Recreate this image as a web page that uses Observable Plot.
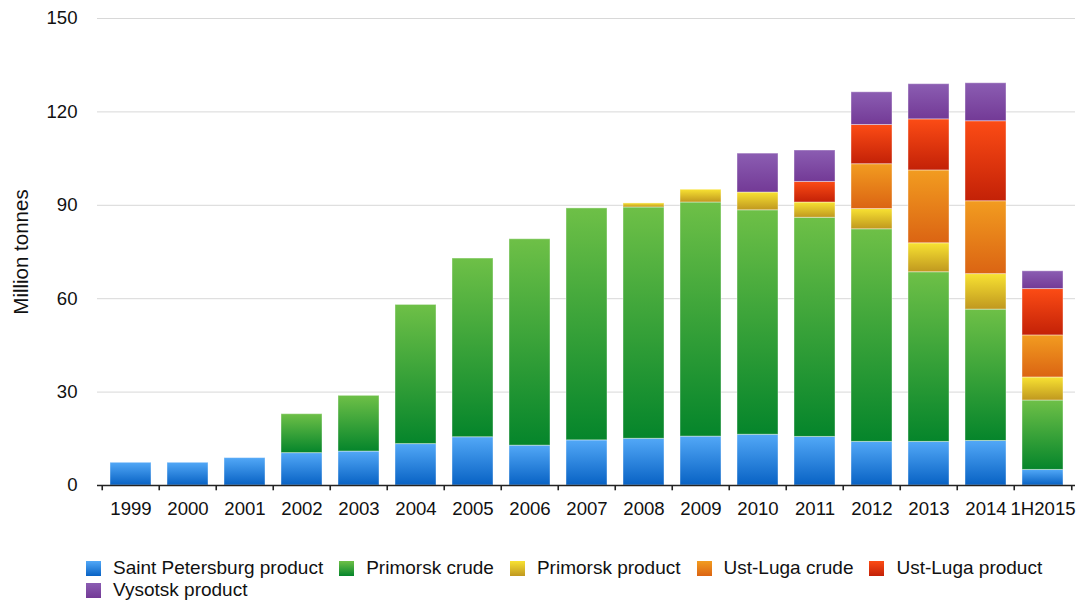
<!DOCTYPE html>
<html>
<head>
<meta charset="utf-8">
<script src="https://cdn.jsdelivr.net/npm/d3@7"></script>
<script src="https://cdn.jsdelivr.net/npm/@observablehq/plot@0.6"></script>
<style>
  body { margin: 0; background: #fff; font-family: "Liberation Sans", Arial, Helvetica, sans-serif; }
  #legend { display: flex; flex-wrap: wrap; column-gap: 16px; margin: 17px 0 0 86px; width: 970px;
            font-size: 19px; line-height: 22px; color: #111; }
  .item { display: flex; align-items: center; }
  .sw { width: 15px; height: 15px; margin-right: 12px; }
</style>
</head>
<body>
<div id="chart"></div>
<div id="legend"></div>
<script>
// Port throughput by terminal, million tonnes
const years = ["1999", "2000", "2001", "2002", "2003", "2004", "2005", "2006", "2007",
               "2008", "2009", "2010", "2011", "2012", "2013", "2014", "1H2015"];
const seriesNames = ["Saint Petersburg product", "Primorsk crude", "Primorsk product",
                     "Ust-Luga crude", "Ust-Luga product", "Vysotsk product"];
const saintPetersburgProduct = [7.3, 7.3, 8.8, 10.4, 10.9, 13.3, 15.5, 12.8, 14.5, 15.0, 15.7, 16.3, 15.6, 14.0, 14.0, 14.3, 5.0];
const primorskCrude          = [0, 0, 0, 12.5, 17.9, 44.7, 57.4, 66.3, 74.5, 74.3, 75.2, 72.1, 70.4, 68.3, 54.5, 42.2, 22.3];
const primorskProduct        = [0, 0, 0, 0, 0, 0, 0, 0, 0, 1.3, 4.1, 5.7, 4.9, 6.5, 9.3, 11.4, 7.4];
const ustLugaCrude           = [0, 0, 0, 0, 0, 0, 0, 0, 0, 0, 0, 0, 0, 14.4, 23.4, 23.4, 13.5];
const ustLugaProduct         = [0, 0, 0, 0, 0, 0, 0, 0, 0, 0, 0, 0, 6.6, 12.6, 16.4, 25.7, 14.9];
const vysotskProduct         = [0, 0, 0, 0, 0, 0, 0, 0, 0, 0, 0, 12.5, 10.1, 10.5, 11.3, 12.2, 5.7];
const yTicks = [0, 30, 60, 90, 120, 150];

// top / bottom colours of each series' vertical gradient
const gradientStops = [
  ["#52a8f7", "#0862c4"],
  ["#6ec047", "#05852b"],
  ["#f8e232", "#c0981f"],
  ["#f29c20", "#db6413"],
  ["#fc4c15", "#c32107"],
  ["#8b5db2", "#733a96"]
];

const seriesValues = [saintPetersburgProduct, primorskCrude, primorskProduct,
                      ustLugaCrude, ustLugaProduct, vysotskProduct];
const rows = [];
years.forEach((year, i) => {
  seriesNames.forEach((name, j) => {
    const v = seriesValues[j][i];
    if (v > 0) rows.push({year, series: name, value: v});
  });
});

const W = 1080, H = 540;
const x0 = 97, x1 = 1075;
const step = (x1 - x0) / years.length;
const font = "'Liberation Sans', Arial, Helvetica, sans-serif";

const chart = Plot.plot({
  width: W,
  height: H,
  marginLeft: x0,
  marginRight: W - x1,
  marginTop: 18,
  marginBottom: H - 485,
  style: {fontFamily: font, fontSize: "18px", color: "#111", background: "#fff"},
  x: {domain: years, paddingInner: 0.285, paddingOuter: 0.1425, label: null},
  y: {domain: [0, 150], label: null},
  color: {domain: seriesNames, range: seriesNames.map((_, j) => `url(#grad${j})`)},
  marks: [
    Plot.gridY(yTicks.slice(1), {stroke: "#d8d8d8", strokeOpacity: 1, strokeWidth: 1}),
    Plot.axisY(yTicks, {tickSize: 0, tickPadding: 20, fontSize: 18.6, label: null}),
    Plot.barY(rows, Plot.stackY({
      x: "year", y: "value", fill: "series",
      stroke: "#ffffff", strokeOpacity: 0.4, strokeWidth: 1
    })),
    Plot.ruleY([0], {stroke: "#222", strokeWidth: 1.6}),
    // category boundary ticks under the baseline
    Plot.ruleX(years, {x: d => d, dx: -step / 2, y1: 0, y2: -1.7, stroke: "#222", strokeWidth: 1.6}),
    Plot.ruleX(years.slice(-1), {x: d => d, dx: step / 2, y1: 0, y2: -1.7, stroke: "#222", strokeWidth: 1.6}),
    Plot.axisX({tickSize: 0, tickPadding: 16, fontSize: 18.6, label: null}),
    Plot.text(["Million tonnes"], {
      frameAnchor: "left", textAnchor: "middle", lineAnchor: "middle",
      rotate: -90, dx: -76.5, fontSize: 20.5, fill: "#111"
    })
  ]
});

// vertical gradients used by the bar fills
const defs = d3.select(chart).insert("defs", ":first-child");
gradientStops.forEach(([top, bottom], j) => {
  const g = defs.append("linearGradient")
    .attr("id", `grad${j}`).attr("x1", 0).attr("y1", 0).attr("x2", 0).attr("y2", 1);
  g.append("stop").attr("offset", "0%").attr("stop-color", top);
  g.append("stop").attr("offset", "100%").attr("stop-color", bottom);
});

document.getElementById("chart").appendChild(chart);

const legend = d3.select("#legend");
seriesNames.forEach((name, j) => {
  const item = legend.append("div").attr("class", "item");
  item.append("div").attr("class", "sw")
    .style("background", `linear-gradient(${gradientStops[j][0]}, ${gradientStops[j][1]})`);
  item.append("span").text(name);
});
</script>
</body>
</html>
